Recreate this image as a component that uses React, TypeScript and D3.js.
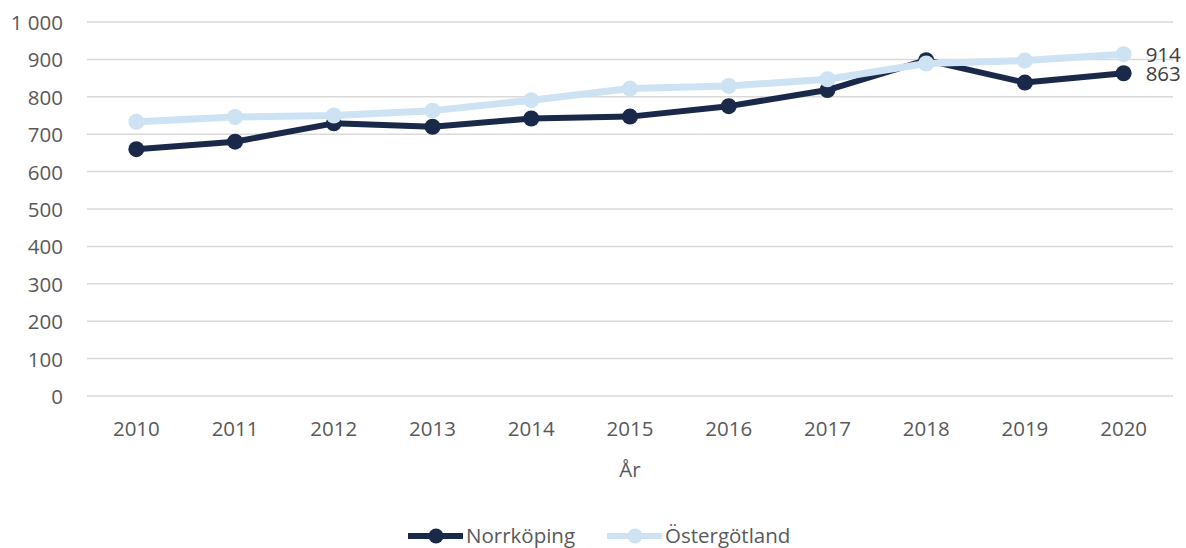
import { useMemo } from "react";
import * as d3 from "d3";

const WIDTH = 1186;
const HEIGHT = 548;
const MARGIN = { top: 22, right: 13, bottom: 152, left: 87 };

const years = ["2010", "2011", "2012", "2013", "2014", "2015", "2016", "2017", "2018", "2019", "2020"];
const norrkoping = [660, 680, 729, 720, 742, 747, 775, 818, 898, 838, 863];
const ostergotland = [733, 746, 750, 763, 791, 822, 829, 847, 889, 897, 914];
const yTicks = [0, 100, 200, 300, 400, 500, 600, 700, 800, 900, 1000];

const DARK = "#1a2849";
const LIGHT = "#cde3f3";
const TEXT = "#595959";
const FONT = "'Open Sans', 'Noto Sans', sans-serif";
const FS = 20.5;

const fmt = (v: number) => (v >= 1000 ? d3.format(",")(v).replace(",", "\u00a0") : String(v));

export default function App() {
  const boundsWidth = WIDTH - MARGIN.left - MARGIN.right;
  const boundsHeight = HEIGHT - MARGIN.top - MARGIN.bottom;

  const xScale = useMemo(
    () => d3.scalePoint().domain(years).range([0, boundsWidth]).padding(0.5),
    [boundsWidth]
  );
  const yScale = useMemo(
    () => d3.scaleLinear().domain([0, 1000]).range([boundsHeight, 0]),
    [boundsHeight]
  );

  const line = d3
    .line<number>()
    .x((_, i) => xScale(years[i]) as number)
    .y((d) => yScale(d));

  const series = [
    { name: "Norrköping", values: norrkoping, color: DARK, width: 6 },
    { name: "Östergötland", values: ostergotland, color: LIGHT, width: 7 },
  ];

  const legend = [
    { name: "Norrköping", color: DARK, x: 408 },
    { name: "Östergötland", color: LIGHT, x: 607 },
  ];

  return (
    <svg width={WIDTH} height={HEIGHT} style={{ position: "absolute", left: 0, top: 0 }} fontFamily={FONT}>
      <rect width={WIDTH} height={HEIGHT} fill="#ffffff" />
      <g transform={`translate(${MARGIN.left},${MARGIN.top})`}>
        {yTicks.map((t) => (
          <g key={t}>
            <line x1={0} x2={boundsWidth} y1={yScale(t)} y2={yScale(t)} stroke="#d9d9d9" strokeWidth={1.5} />
            <text x={-24} y={yScale(t)} textAnchor="end" dominantBaseline="central" fontSize={FS} fill={TEXT}>
              {fmt(t)}
            </text>
          </g>
        ))}
        {years.map((y) => (
          <text key={y} x={xScale(y)} y={boundsHeight + 32} textAnchor="middle" dominantBaseline="central" fontSize={FS} fill={TEXT}>
            {y}
          </text>
        ))}
        <text x={boundsWidth / 2} y={boundsHeight + 73} textAnchor="middle" dominantBaseline="central" fontSize={FS} fill={TEXT}>
          År
        </text>
        {series.map((s) => (
          <g key={s.name}>
            <path d={line(s.values) ?? ""} fill="none" stroke={s.color} strokeWidth={s.width} strokeLinejoin="round" />
            {s.values.map((v, i) => (
              <circle key={i} cx={xScale(years[i])} cy={yScale(v)} r={8} fill={s.color} />
            ))}
            <text
              x={(xScale(years[years.length - 1]) as number) + 22}
              y={yScale(s.values[s.values.length - 1])}
              dominantBaseline="central"
              fontSize={FS}
              fill="#404040"
            >
              {s.values[s.values.length - 1]}
            </text>
          </g>
        ))}
      </g>
      {legend.map((l) => (
        <g key={l.name} transform={`translate(${l.x},536)`}>
          <line x1={0} x2={55} y1={0} y2={0} stroke={l.color} strokeWidth={6} />
          <circle cx={28} cy={0} r={7.5} fill={l.color} />
          <text x={58} y={-1} dominantBaseline="central" fontSize={FS} fill={TEXT}>
            {l.name}
          </text>
        </g>
      ))}
    </svg>
  );
}
